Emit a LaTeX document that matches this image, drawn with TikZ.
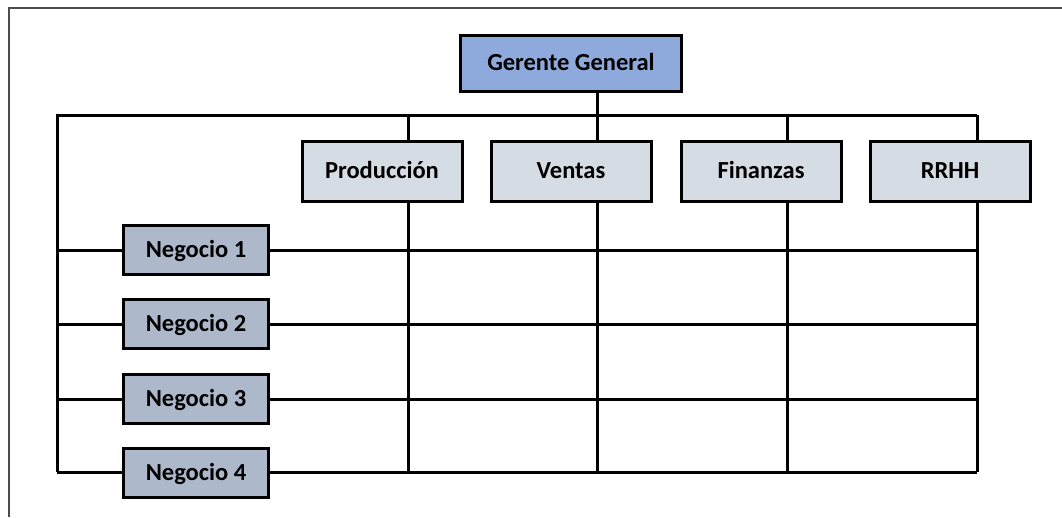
\documentclass[tikz,border=0pt]{standalone}
\usepackage{fontspec}
\setmainfont{Carlito}
\usepackage{tikz}
\usetikzlibrary{positioning, backgrounds}

\definecolor{jefeblue}{HTML}{8EA9DB}
\definecolor{areagray}{HTML}{D6DCE4}
\definecolor{neggray}{HTML}{ADB9CA}

\begin{document}
\begin{tikzpicture}[
    x=1pt, y=-1pt,
    every node/.style={font=\fontsize{24.5}{28}\selectfont\bfseries},
    box/.style={draw, line width=3pt, inner sep=0pt, align=center, text height=17pt, text depth=3pt},
    jefe/.style={box, fill=jefeblue, minimum width=221pt, minimum height=56pt},
    area/.style={box, fill=areagray, minimum width=160pt, minimum height=60pt},
    negocio/.style={box, fill=neggray, minimum width=145pt, minimum height=49pt},
    linea/.style={line width=3pt},
]
\useasboundingbox (0,0) rectangle (1062,517);

% ── Marco ──
\draw[line width=2pt, black!70] (9,517) -- (9,8) -- (1062,8);

% ── Gerente ──
\node[jefe] (gerente) at (571,63) {Gerente General};

% ── Areas ──
\node[area] (prod)     at (382,171) {Producción};
\node[area] (ventas)   at (571,171) {Ventas};
\node[area] (finanzas) at (761,171) {Finanzas};
\node[area] (rrhh)     at (950,171) {RRHH};

% ── Negocios ──
\node[negocio] (neg1) at (196,250) {Negocio 1};
\node[negocio] (neg2) at (196,324) {Negocio 2};
\node[negocio] (neg3) at (196,399) {Negocio 3};
\node[negocio] (neg4) at (196,473) {Negocio 4};

% ── Puntos de la matriz ──
\foreach \x [count=\i] in {408,597,787,977} {
    \coordinate (top\i) at (\x,115);
    \coordinate (bot\i) at (\x,472);
}
\foreach \n/\y in {1/250,2/324,3/399,4/472} {
    \coordinate (lft\n) at (57,\y);
    \coordinate (rgt\n) at (977,\y);
}

% ── Lineas ──
\begin{scope}[on background layer]
\draw[linea] (gerente.south -| top2) -- (top2);
\draw[linea] (lft4) -- (lft4 |- top1) -- (top4);
\foreach \i in {1,...,4} {
    \draw[linea] (top\i) -- (bot\i);
    \draw[linea] (lft\i) -- (rgt\i);
}
\end{scope}

\end{tikzpicture}
\end{document}
